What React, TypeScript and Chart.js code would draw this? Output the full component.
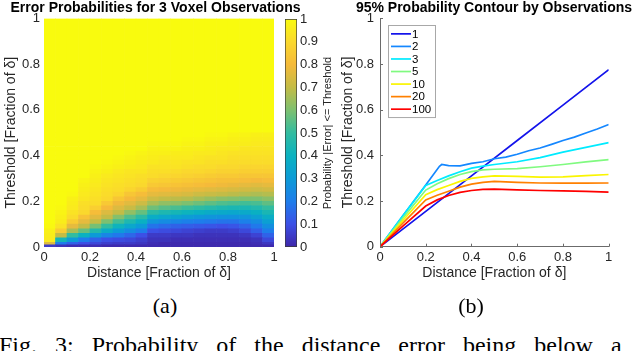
import React, { useEffect, useRef } from "react";
import { Chart, registerables } from "chart.js";

Chart.register(...registerables);

const FONT = "'Liberation Sans', Arial, Helvetica, sans-serif";
const SERIF = "'Liberation Serif', 'Times New Roman', serif";

// ---------------- (a) heat map data ----------------
// column centres (distance, fraction of delta)
const heatDistance = [
  0.025, 0.075, 0.125, 0.175, 0.225, 0.275, 0.325, 0.375, 0.425, 0.475,
  0.525, 0.575, 0.625, 0.675, 0.725, 0.775, 0.825, 0.875, 0.925, 0.975,
];
// row edges (threshold, fraction of delta)
const heatThresholdEdges = [
  0, 0.01, 0.02, 0.04, 0.06, 0.08, 0.1, 0.12, 0.14, 0.16, 0.18, 0.2, 0.22, 0.24,
  0.26, 0.28, 0.3, 0.32, 0.34, 0.36, 0.38, 0.4, 0.42, 0.44, 0.46, 0.48, 0.5, 1,
];
// probability |error| <= threshold, one array per distance column, bottom row first
const heatProbability: number[][] = [
  [.05,.75,.95,.96,.97,.99,1,1,1,1,1,1,1,1,1,1,1,1,1,1,1,1,1,1,1,1,1],
  [.03,.20,.43,.70,.86,.93,.96,.97,.98,.99,1,1,1,1,1,1,1,1,1,1,1,1,1,1,1,1,1],
  [.02,.14,.30,.50,.66,.77,.86,.91,.93,.95,.96,.97,.99,1,1,1,1,1,1,1,1,1,1,1,1,1,1],
  [.02,.10,.20,.40,.57,.70,.77,.83,.90,.91,.92,.94,.95,.96,.97,.98,1,1,1,1,1,1,1,1,1,1,1],
  [.02,.08,.14,.30,.46,.59,.70,.76,.81,.87,.91,.92,.93,.94,.95,.96,.97,.98,.99,1,1,1,1,1,1,1,1],
  [.01,.06,.10,.23,.37,.50,.60,.70,.75,.80,.85,.90,.91,.92,.93,.94,.95,.97,.98,.99,1,1,1,1,1,1,1],
  [.01,.05,.09,.19,.30,.41,.52,.61,.70,.75,.79,.84,.89,.91,.92,.93,.94,.95,.97,.98,.99,1,1,1,1,1,1],
  [.01,.05,.08,.15,.25,.35,.45,.54,.63,.71,.76,.80,.84,.89,.91,.92,.93,.94,.96,.97,.98,.99,1,1,1,1,1],
  [.01,.04,.06,.10,.20,.30,.39,.48,.57,.66,.72,.77,.81,.86,.90,.91,.92,.94,.95,.96,.97,.98,1,1,1,1,1],
  [.01,.02,.03,.05,.10,.18,.28,.38,.48,.58,.66,.72,.77,.81,.85,.88,.91,.92,.93,.95,.96,.97,.98,.99,1,1,1],
  [.01,.01,.03,.05,.09,.16,.25,.35,.45,.55,.63,.70,.76,.80,.84,.87,.90,.92,.93,.94,.95,.97,.98,.99,1,1,1],
  [.01,.01,.02,.04,.08,.14,.23,.33,.43,.53,.62,.69,.75,.79,.83,.86,.89,.91,.93,.94,.95,.96,.98,.99,1,1,1],
  [.01,.01,.02,.04,.07,.13,.21,.31,.41,.51,.60,.68,.74,.78,.82,.85,.88,.90,.92,.93,.95,.96,.97,.98,.99,1,1],
  [.01,.01,.02,.03,.06,.12,.20,.29,.39,.49,.58,.66,.72,.77,.81,.84,.87,.90,.91,.93,.94,.95,.97,.98,.99,1,1],
  [.01,.01,.02,.03,.05,.11,.19,.28,.37,.47,.56,.64,.71,.76,.80,.83,.86,.89,.91,.92,.93,.95,.96,.97,.98,.99,1],
  [.01,.01,.02,.03,.05,.10,.18,.27,.36,.45,.54,.62,.70,.75,.79,.82,.85,.88,.90,.92,.93,.94,.95,.97,.98,.99,1],
  [.01,.01,.02,.03,.06,.11,.18,.27,.35,.44,.53,.61,.69,.74,.78,.82,.85,.88,.90,.91,.92,.93,.95,.96,.97,.98,1],
  [.01,.01,.02,.04,.08,.14,.21,.28,.36,.44,.52,.60,.68,.73,.77,.81,.84,.87,.89,.91,.92,.93,.94,.96,.97,.98,1],
  [.01,.02,.03,.07,.13,.19,.25,.32,.39,.46,.53,.60,.67,.72,.76,.80,.84,.87,.89,.91,.92,.93,.94,.95,.96,.97,1],
  [.01,.04,.08,.14,.20,.26,.32,.38,.44,.50,.56,.62,.68,.73,.77,.81,.84,.87,.89,.91,.92,.93,.94,.95,.96,.97,1],
];
const colorbarRange = [0, 1];

// ---------------- (b) 95% contour data ----------------
const obsLabels = ["1", "2", "3", "5", "10", "20", "100"];
const dist1 = [0, 0.2, 0.4, 0.6, 0.8, 1];
const thr1 = [0, 0.155, 0.31, 0.465, 0.62, 0.775];
const dist2 = [0, 0.1, 0.2, 0.26, 0.27, 0.3, 0.35, 0.4, 0.45, 0.5, 0.55, 0.6, 0.65, 0.7, 0.75, 0.8, 0.85, 0.9, 0.95, 1];
const thr2 = [0, 0.135, 0.27, 0.352, 0.36, 0.355, 0.354, 0.365, 0.372, 0.385, 0.392, 0.405, 0.42, 0.432, 0.448, 0.465, 0.48, 0.498, 0.515, 0.535];
const distN = [0, 0.1, 0.2, 0.25, 0.3, 0.35, 0.4, 0.45, 0.5, 0.6, 0.7, 0.8, 0.9, 1];
const thr3 = [0, 0.135, 0.268, 0.29, 0.31, 0.328, 0.344, 0.353, 0.36, 0.372, 0.39, 0.414, 0.435, 0.456];
const thr5 = [0, 0.125, 0.248, 0.276, 0.298, 0.316, 0.329, 0.336, 0.339, 0.342, 0.35, 0.36, 0.371, 0.381];
const thr10 = [0, 0.115, 0.228, 0.25, 0.268, 0.286, 0.299, 0.306, 0.31, 0.308, 0.305, 0.306, 0.311, 0.316];
const thr20 = [0, 0.103, 0.205, 0.225, 0.243, 0.261, 0.274, 0.282, 0.286, 0.282, 0.279, 0.278, 0.278, 0.279];
const thr100 = [0, 0.09, 0.178, 0.205, 0.224, 0.238, 0.246, 0.251, 0.252, 0.249, 0.246, 0.244, 0.242, 0.239];
const axisTicks = [0, 0.2, 0.4, 0.6, 0.8, 1];

// ---------------- styles ----------------
const parulaStops = [
  "#3e26a8", "#3c50e6", "#1e7deb", "#0c9bd7", "#0ab2c0", "#32bca0",
  "#7dc070", "#c3bc46", "#f5ba3a", "#fad82d", "#f9fb0e",
];
const lineColors = ["rgb(20,20,235)", "rgb(20,135,255)", "rgb(0,235,255)", "rgb(128,250,128)", "rgb(250,245,0)", "rgb(255,128,0)", "rgb(255,0,0)"];
const TICK_COLOR = "#262626";

function hexToRgb(h: string) {
  const n = parseInt(h.slice(1), 16);
  return [(n >> 16) & 255, (n >> 8) & 255, n & 255];
}
const parulaRgb = parulaStops.map(hexToRgb);
function parula(v: number) {
  const t = Math.max(0, Math.min(1, v)) * (parulaRgb.length - 1);
  const i = Math.min(parulaRgb.length - 2, Math.floor(t));
  const f = t - i;
  const a = parulaRgb[i], b = parulaRgb[i + 1];
  const c = a.map((x, k) => Math.round(x + (b[k] - x) * f));
  return `rgb(${c[0]},${c[1]},${c[2]})`;
}
const fmt = (v: any) => String(Math.round(Number(v) * 100) / 100);

const innerTicks = {
  id: "innerTicks",
  afterDraw(chart: any, _args: any, opts: any) {
    const { ctx, chartArea, scales } = chart;
    ctx.save();
    ctx.strokeStyle = opts.color;
    ctx.lineWidth = 1;
    for (const v of axisTicks) {
      const px = Math.round(scales.x.getPixelForValue(v)) + 0.5;
      ctx.beginPath();
      ctx.moveTo(px, chartArea.bottom);
      ctx.lineTo(px, chartArea.bottom - opts.len);
      ctx.stroke();
      const py = Math.round(scales.y.getPixelForValue(v)) + 0.5;
      ctx.beginPath();
      ctx.moveTo(chartArea.left, py);
      ctx.lineTo(chartArea.left + opts.len, py);
      ctx.stroke();
    }
    ctx.restore();
  },
};

const boxLegend = {
  id: "boxLegend",
  afterDatasetsDraw(chart: any, _args: any, opts: any) {
    const { ctx, chartArea } = chart;
    const ds = chart.data.datasets;
    const x0 = Math.round(chartArea.left + opts.offsetX);
    const y0 = Math.round(chartArea.top + opts.offsetY);
    const h = opts.rowHeight * ds.length + opts.padY * 2;
    ctx.save();
    ctx.fillStyle = "#fff";
    ctx.fillRect(x0, y0, opts.width, h);
    ctx.strokeStyle = opts.borderColor;
    ctx.lineWidth = 1;
    ctx.strokeRect(x0 + 0.5, y0 + 0.5, opts.width - 1, h - 1);
    ctx.font = `${opts.fontSize}px ${FONT}`;
    ctx.textBaseline = "middle";
    ctx.textAlign = "left";
    ds.forEach((d: any, i: number) => {
      const cy = y0 + opts.padY + opts.rowHeight * (i + 0.5);
      ctx.strokeStyle = d.borderColor;
      ctx.lineWidth = 1.7;
      ctx.beginPath();
      ctx.moveTo(x0 + 3, cy);
      ctx.lineTo(x0 + 23, cy);
      ctx.stroke();
      ctx.fillStyle = "#000";
      ctx.fillText(d.label, x0 + 24, cy + 0.5);
    });
    ctx.restore();
  },
};

function titleOpts(text: string, bottom: number) {
  return {
    display: true,
    text,
    color: "#000",
    font: { family: FONT, size: 14, weight: "bold" as const, lineHeight: 1.2 },
    padding: { top: 0, bottom },
  };
}

function axisTitle(text: string, padding: any) {
  return { display: true, text, color: TICK_COLOR, font: { family: FONT, size: 14, lineHeight: 1.2 }, padding };
}

function heatConfig(): any {
  const datasets = heatThresholdEdges.slice(0, -1).map((lo, r) => ({
    label: `row ${r}`,
    data: heatDistance.map((x) => ({ x, y: [lo, heatThresholdEdges[r + 1]] })),
    backgroundColor: heatDistance.map((_, c) => parula(heatProbability[c][r])),
    borderWidth: 0,
    barPercentage: 1,
    categoryPercentage: 1,
    grouped: false,
  }));
  return {
    type: "bar",
    data: { datasets },
    options: {
      animation: false,
      responsive: false,
      events: [],
      layout: { padding: 0 },
      plugins: {
        legend: { display: false },
        tooltip: { enabled: false },
        title: titleOpts("Error Probabilities for 3 Voxel Observations", 1.7),
      },
      scales: {
        x: {
          type: "linear",
          min: 0,
          max: 1,
          offset: false,
          grid: { display: false, drawTicks: false, offset: false },
          border: { display: false },
          ticks: { stepSize: 0.2, padding: 3, color: TICK_COLOR, font: { size: 13 }, callback: fmt, maxRotation: 0 },
          title: axisTitle("Distance [Fraction of δ]", { top: 0, bottom: 3.9 }),
          afterFit: (s: any) => { s.height = 38; },
        },
        y: {
          type: "linear",
          min: 0,
          max: 1,
          grid: { display: false, drawTicks: false },
          border: { display: false },
          ticks: { stepSize: 0.2, padding: 4, color: TICK_COLOR, font: { size: 13 }, callback: fmt },
          title: axisTitle("Threshold [Fraction of δ]", { top: 2.6, bottom: 0 }),
          afterFit: (s: any) => { s.width = 44; },
        },
        yR: {
          type: "linear",
          position: "right",
          grid: { display: false, drawTicks: false },
          border: { display: false },
          ticks: { display: false },
          afterFit: (s: any) => { s.width = 37; },
        },
      },
    },
  };
}

function colorbarConfig(): any {
  return {
    type: "bar",
    data: {
      labels: ["p"],
      datasets: [
        {
          data: [[colorbarRange[0], colorbarRange[1]]],
          backgroundColor: (ctx: any) => {
            const a = ctx.chart.chartArea;
            if (!a) return "#888";
            const g = ctx.chart.ctx.createLinearGradient(0, a.bottom, 0, a.top);
            parulaStops.forEach((c, i) => g.addColorStop(i / (parulaStops.length - 1), c));
            return g;
          },
          borderColor: "#3a3a3a",
          borderWidth: 1,
          borderSkipped: false,
          barPercentage: 1,
          categoryPercentage: 1,
        },
      ],
    },
    options: {
      animation: false,
      responsive: false,
      events: [],
      layout: { padding: { left: 4, top: 19, bottom: 38, right: 0 } },
      plugins: { legend: { display: false }, tooltip: { enabled: false } },
      scales: {
        x: { display: false },
        y: {
          position: "right",
          min: 0,
          max: 1,
          grid: { display: false, drawTicks: false },
          border: { display: false },
          ticks: { stepSize: 0.1, padding: 3, color: TICK_COLOR, font: { size: 13 }, callback: fmt },
          afterFit: (s: any) => { s.width = 28; },
        },
      },
    },
  };
}

function contourConfig(): any {
  const series = [
    { x: dist1, y: thr1 },
    { x: dist2, y: thr2 },
    { x: distN, y: thr3 },
    { x: distN, y: thr5 },
    { x: distN, y: thr10 },
    { x: distN, y: thr20 },
    { x: distN, y: thr100 },
  ];
  const datasets = series.map((s, i) => ({
    label: obsLabels[i],
    data: s.x.map((x, j) => ({ x, y: s.y[j] })),
    borderColor: lineColors[i],
    backgroundColor: lineColors[i],
    borderWidth: 1.7,
    pointRadius: 0,
    tension: 0,
    fill: false,
    order: series.length - i,
  }));
  return {
    type: "line",
    data: { datasets },
    plugins: [innerTicks, boxLegend],
    options: {
      animation: false,
      responsive: false,
      events: [],
      layout: { padding: 0 },
      plugins: {
        legend: { display: false },
        tooltip: { enabled: false },
        title: titleOpts("95% Probability Contour by Observations", 1.5),
        innerTicks: { color: "#6b6b6b", len: 3 },
        boxLegend: { offsetX: 8, offsetY: 6.7, width: 48, rowHeight: 12.55, padY: 2.6, borderColor: "#a8a8a8", fontSize: 11.5 },
      },
      scales: {
        x: {
          type: "linear",
          min: 0,
          max: 1,
          grid: { display: false, drawTicks: false },
          border: { display: true, color: "#6b6b6b", width: 1 },
          ticks: { stepSize: 0.2, padding: 3, color: TICK_COLOR, font: { size: 13 }, callback: fmt, maxRotation: 0 },
          title: axisTitle("Distance [Fraction of δ]", { top: 0, bottom: 3.9 }),
          afterFit: (s: any) => { s.height = 38.3; },
        },
        y: {
          type: "linear",
          min: 0,
          max: 1,
          grid: { display: false, drawTicks: false },
          border: { display: true, color: "#6b6b6b", width: 1 },
          ticks: { stepSize: 0.2, padding: 6, color: TICK_COLOR, font: { size: 13 }, callback: fmt },
          title: axisTitle("Threshold [Fraction of δ]", { top: 2, bottom: 0 }),
          afterFit: (s: any) => { s.width = 42; },
        },
        yR: {
          type: "linear",
          position: "right",
          grid: { display: false, drawTicks: false },
          border: { display: false },
          ticks: { display: false },
          afterFit: (s: any) => { s.width = 41.3; },
        },
      },
    },
  };
}

function ChartCanvas(props: { left: number; top: number; width: number; height: number; make: () => any }) {
  const ref = useRef<HTMLCanvasElement>(null);
  useEffect(() => {
    const chart = new Chart(ref.current as HTMLCanvasElement, props.make());
    return () => chart.destroy();
  }, []);
  return (
    <canvas
      ref={ref}
      width={props.width}
      height={props.height}
      style={{ position: "absolute", left: props.left, top: props.top, width: props.width, height: props.height }}
    />
  );
}

export default function App() {
  Chart.defaults.font.family = FONT;
  Chart.defaults.color = TICK_COLOR;
  return (
    <div style={{ position: "fixed", left: 0, top: 0, width: 640, height: 351, overflow: "hidden", background: "#fff" }}>
      <ChartCanvas left={0} top={0} width={311} height={285} make={heatConfig} />
      <ChartCanvas left={281} top={0} width={44} height={285} make={colorbarConfig} />
      <div
        style={{
          position: "absolute",
          left: 327,
          top: 133,
          transform: "translate(-50%, -50%) rotate(-90deg)",
          font: `11px ${FONT}`,
          color: TICK_COLOR,
          whiteSpace: "nowrap",
        }}
      >
        {"Probability |Error| <= Threshold"}
      </div>
      <ChartCanvas left={338} top={0} width={312} height={285} make={contourConfig} />
      <div style={{ position: "absolute", left: 165, top: 295, transform: "translateX(-50%)", font: `22px/22px ${SERIF}`, color: "#000", whiteSpace: "nowrap" }}>
        (a)
      </div>
      <div style={{ position: "absolute", left: 471, top: 295, transform: "translateX(-50%)", font: `22px/22px ${SERIF}`, color: "#000", whiteSpace: "nowrap" }}>
        (b)
      </div>
      <div style={{ position: "absolute", left: -1, top: 333, font: `24px/24px ${SERIF}`, color: "#000", whiteSpace: "nowrap", wordSpacing: 12 }}>
        Fig. 3: Probability of the distance error being below a
      </div>
    </div>
  );
}
